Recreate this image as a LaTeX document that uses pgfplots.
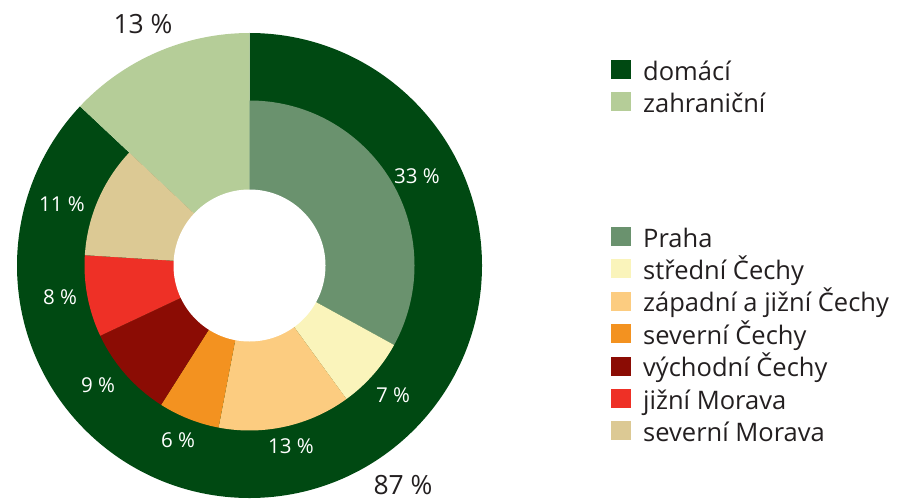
\documentclass[border=0pt]{standalone}
\usepackage{pgfplots}
\pgfplotsset{compat=1.18}
\usepackage{pgfplotstable}
\usepackage{fontspec}
\setmainfont{Open Sans}

\definecolor{cDom}{RGB}{0,73,18}
\definecolor{cZahr}{RGB}{181,205,152}
\definecolor{cPraha}{RGB}{106,146,110}
\definecolor{cStred}{RGB}{250,244,187}
\definecolor{cZapad}{RGB}{252,204,128}
\definecolor{cSever}{RGB}{243,146,32}
\definecolor{cVychod}{RGB}{139,12,4}
\definecolor{cJiz}{RGB}{238,48,38}
\definecolor{cSevMor}{RGB}{220,201,148}
\definecolor{cText}{RGB}{35,31,32}

% outer ring: domaci / zahranicni
\pgfplotstableread{
value col
87 cDom
13 cZahr
}\outerdata
% inner ring: regions; lx ly = label position (picture pixels from top-left)
\pgfplotstableread{
value col lx ly
33 cPraha 417 176
7 cStred 393 395
13 cZapad 291 446
6 cSever 178 440
9 cVychod 98 385
8 cJiz 60 297
11 cSevMor 62 204
}\innerdata

\def\cx{249.5}
\def\cy{233.5}

\newcommand\drawring[2]{%
  \xdef\angA{90}%
  \pgfplotstablegetrowsof{#1}%
  \pgfmathtruncatemacro\nrows{\pgfplotsretval-1}%
  \foreach \i in {0,...,\nrows}{%
    \pgfplotstablegetelem{\i}{value}\of{#1}\let\segval\pgfplotsretval
    \pgfplotstablegetelem{\i}{col}\of{#1}\let\segcol\pgfplotsretval
    \pgfmathsetmacro\angB{\angA-3.6*\segval}%
    \fill[fill=\segcol] (axis cs:\cx,\cy) -- ++(\angA:#2) arc[start angle=\angA,end angle=\angB,radius=#2] -- cycle;
    \xdef\angA{\angB}%
  }}
\newcommand\labelring[1]{%
  \pgfplotstablegetrowsof{#1}%
  \pgfmathtruncatemacro\nrows{\pgfplotsretval-1}%
  \foreach \i in {0,...,\nrows}{%
    \pgfplotstablegetelem{\i}{value}\of{#1}\let\segval\pgfplotsretval
    \pgfplotstablegetelem{\i}{lx}\of{#1}\let\lx\pgfplotsretval
    \pgfplotstablegetelem{\i}{ly}\of{#1}\let\ly\pgfplotsretval
    \pgfmathsetmacro\lyy{499-\ly}%
    \node[text=white,font=\fontsize{20.5}{24}\selectfont] at (axis cs:\lx,\lyy) {\segval\ \%};
  }}

\pgfplotsset{mylegend/.style={
  legend cell align=left,
  legend style={draw=none, fill=none, inner sep=0pt, outer sep=0pt, anchor=north west,
    font=\fontsize{25.5}{28}\selectfont, row sep=6.4pt,
    nodes={inner sep=0pt, text height=18pt, text depth=6pt, text=cText}},
  legend image code/.code={\fill[##1, draw=none] (0pt,-5pt) rectangle (20pt,14pt); \path (32pt,0pt);}
}}

\begin{document}
\begin{tikzpicture}
\begin{axis}[name=main, width=901pt, height=499pt, scale only axis,
  xmin=0, xmax=901, ymin=0, ymax=499, hide axis, mylegend,
  legend style={at={(axis cs:611,439)}}]
\addlegendimage{fill=cDom}\addlegendentry{domácí}
\addlegendimage{fill=cZahr}\addlegendentry{zahraniční}
\pgfplotsextra{%
  \drawring{\outerdata}{232.5pt}
  \drawring{\innerdata}{165pt}
  \fill[white] (axis cs:\cx,\cy) circle[radius=76pt];
  \labelring{\innerdata}
  \node[font=\fontsize{26.5}{30}\selectfont, text=cText, anchor=base] at (axis cs:143,465) {13 \%};
  \node[font=\fontsize{26.5}{30}\selectfont, text=cText, anchor=base] at (axis cs:403,5) {87 \%};
}
\end{axis}
\begin{axis}[width=901pt, height=499pt, scale only axis,
  xmin=0, xmax=901, ymin=0, ymax=499, hide axis, mylegend,
  legend style={at={(axis cs:611,272)}}]
\addlegendimage{fill=cPraha}\addlegendentry{Praha}
\addlegendimage{fill=cStred}\addlegendentry{střední Čechy}
\addlegendimage{fill=cZapad}\addlegendentry{západní a jižní Čechy}
\addlegendimage{fill=cSever}\addlegendentry{severní Čechy}
\addlegendimage{fill=cVychod}\addlegendentry{východní Čechy}
\addlegendimage{fill=cJiz}\addlegendentry{jižní Morava}
\addlegendimage{fill=cSevMor}\addlegendentry{severní Morava}
\end{axis}
\pgfresetboundingbox
\path (main.south west) rectangle (main.north east);
\end{tikzpicture}
\end{document}
